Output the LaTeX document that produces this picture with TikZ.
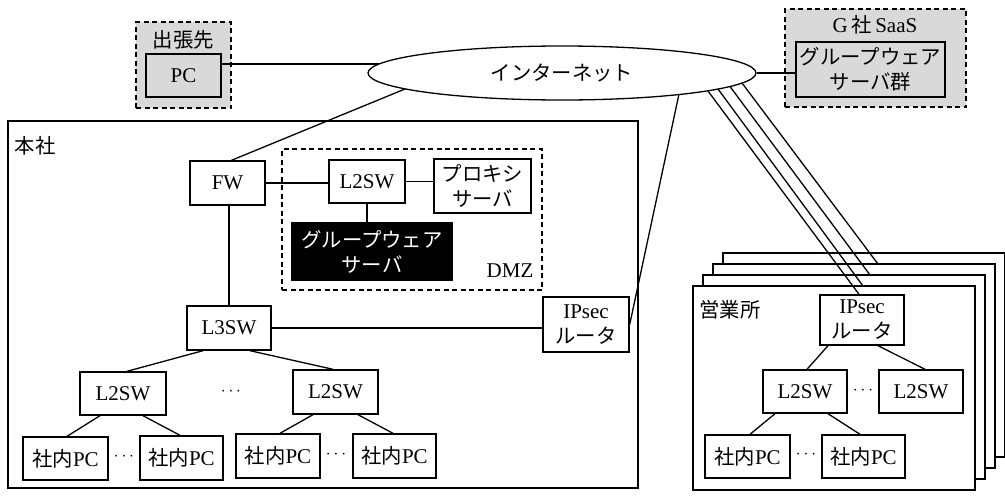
\documentclass[tikz,border=0pt]{standalone}
\usepackage{fontspec}
\setmainfont{Liberation Serif}
\newfontfamily\jp[Scale=0.97]{Noto Sans CJK JP}
\usetikzlibrary{shapes.geometric}
\begin{document}
\begin{tikzpicture}[x=1pt,y=-1pt, line width=1.3pt,
  wh/.style 2 args={minimum width=#1pt, minimum height=#2pt},
  fnt/.style={font=\fontsize{21}{25}\selectfont},
  box/.style={draw, fill=white, inner sep=0pt, align=center, fnt, line width=1.4pt},
  txt/.style={inner sep=0pt, align=center, fnt},
  dotstyle/.style={inner sep=0pt, font=\fontsize{16}{16}\selectfont},
  dashbox/.style={draw, dash pattern=on 5pt off 3.5pt, line width=1.4pt, inner sep=0pt},
  greybox/.style={dashbox, fill=gray!30},
  thickbox/.style={box, fill=gray!30, line width=2pt},
  link/.style={draw, line width=1.3pt}
  ]
\useasboundingbox (0,0) rectangle (1005,498);

% external sites
\node[greybox, wh={95}{86}] (trip) at (183.5,65) {};
\node[txt] (triplabel) at (183.5,40) {\jp 出張先};
\node[thickbox, wh={75}{43}] (pc) at (183.5,75.5) {PC};

\node[greybox, wh={181}{98}] (saas) at (875.5,58) {};
\node[txt] (saaslabel) at (875,25) {G\,{\jp 社}\,SaaS};
\node[thickbox, wh={149}{55}] (saasin) at (870.5,69.5) {\jp グループウェア\\\jp サーバ群};

\node[ellipse, draw, fill=white, wh={388}{54}, inner sep=0pt, fnt] (inet) at (562,73) {\jp インターネット};

% head office
\node[draw, line width=1.4pt, wh={630}{367}, inner sep=0pt] (hq) at (323,304.5) {};
\node[txt, anchor=north west] (hqlabel) at ([shift={(7pt,-15pt)}]hq.north west) {\jp 本社};
\node[dashbox, wh={260}{141}] (dmz) at (412,219.5) {};
\node[txt] (dmzlabel) at (510,271) {DMZ};

\node[box, wh={75}{44}] (fw) at (227.5,183) {FW};
\node[box, wh={76}{43}] (dl2) at (367,181.5) {L2SW};
\node[box, wh={97}{54}] (proxy) at (482.5,186) {\jp プロキシ\\\jp サーバ};
\node[box, fill=black, text=white, wh={160}{57}] (gw) at (372,251.5) {\jp グループウェア\\\jp サーバ};
\node[box, wh={84}{44}] (l3sw) at (229,328) {L3SW};
\node[box, wh={86}{55}] (ipsec) at (586,324.5) {IPsec\\\jp ルータ};
\node[box, wh={86}{43}] (l2a) at (123,393.5) {L2SW};
\node[box, wh={85}{44}] (l2b) at (335.5,392) {L2SW};
\node[dotstyle] (dots1) at (231,392) {$\cdots$};
\node[box, wh={85}{43}] (pc1) at (65.5,458.5) {{\jp 社内}PC};
\node[box, wh={83}{44}] (pc2) at (181.5,458) {{\jp 社内}PC};
\node[dotstyle] (dots2) at (124,457) {$\cdots$};
\node[box, wh={84}{44}] (pc3) at (278,456) {{\jp 社内}PC};
\node[box, wh={83}{44}] (pc4) at (394.5,456) {{\jp 社内}PC};
\node[dotstyle] (dots3) at (336,455) {$\cdots$};

% branch offices (stack)
\node[box, wh={282}{204}] (b4) at (864,355) {};
\node[box, wh={282}{204}] (b3) at (854,366) {};
\node[box, wh={282}{204}] (b2) at (844,377) {};
\node[box, wh={282}{204}] (b1) at (834,388) {};
\node[txt] (b1label) at (730,310) {\jp 営業所};
\node[box, wh={84}{50}] (bipsec) at (862,320) {IPsec\\\jp ルータ};
\node[box, wh={84}{43}] (bl2a) at (805,391.5) {L2SW};
\node[box, wh={84}{43}] (bl2b) at (921,391.5) {L2SW};
\node[dotstyle] (dots4) at (863,391) {$\cdots$};
\node[box, wh={85}{43}] (bpc1) at (747.5,456.5) {{\jp 社内}PC};
\node[box, wh={83}{43}] (bpc2) at (863.5,456.5) {{\jp 社内}PC};
\node[dotstyle] (dots5) at (806,455) {$\cdots$};

\coordinate (e2) at (863,286);
\coordinate (e3) at (870,275);
\coordinate (e4) at (878,264);

% connectors
\draw[link] ([yshift=11.5pt]pc.east) -- ([shift={(-183,-9)}]inet.center);
\draw[link] (inet.east) -- (inet.east -| saasin.west);
\draw[link] ([shift={(-157,16)}]inet.center) -- ([xshift=4pt]fw.north);
\draw[link] ([shift={(117,21)}]inet.center) -- (ipsec.east);
\draw[link] ([shift={(146,18)}]inet.center) -- ([xshift=-3pt]bipsec.north);
\draw[link] ([shift={(156,16)}]inet.center) -- (e2);
\draw[link] ([shift={(168,13.5)}]inet.center) -- (e3);
\draw[link] ([shift={(180,10)}]inet.center) -- (e4);

\draw[link] (fw.east) -- (fw.east -| dl2.west);
\draw[link] (dl2.east) -- (dl2.east -| proxy.west);
\draw[link] (dl2.south) -- (dl2.south |- gw.north);
\draw[link] ([xshift=1.5pt]fw.south) -- ([xshift=1.5pt]fw.south |- l3sw.north);
\draw[link] (l3sw.east) -- (l3sw.east -| ipsec.west);
\draw[link] ([xshift=-26pt]l3sw.south) -- ([xshift=4pt]l2a.north);
\draw[link] ([xshift=21pt]l3sw.south) -- ([xshift=-2.5pt]l2b.north);
\draw[link] ([xshift=-23pt]l2a.south) -- ([xshift=1.5pt]pc1.north);
\draw[link] ([xshift=20pt]l2a.south) -- ([xshift=-1.5pt]pc2.north);
\draw[link] ([xshift=-22.5pt]l2b.south) -- ([xshift=2pt]pc3.north);
\draw[link] ([xshift=22.5pt]l2b.south) -- ([xshift=-1.5pt]pc4.north);

\draw[link] ([xshift=-34pt]bipsec.south) -- ([xshift=2pt]bl2a.north);
\draw[link] ([xshift=16pt]bipsec.south) -- ([xshift=4pt]bl2b.north);
\draw[link] ([xshift=-30pt]bl2a.south) -- ([xshift=2.5pt]bpc1.north);
\draw[link] ([xshift=23pt]bl2a.south) -- ([xshift=-3.5pt]bpc2.north);
\end{tikzpicture}
\end{document}
